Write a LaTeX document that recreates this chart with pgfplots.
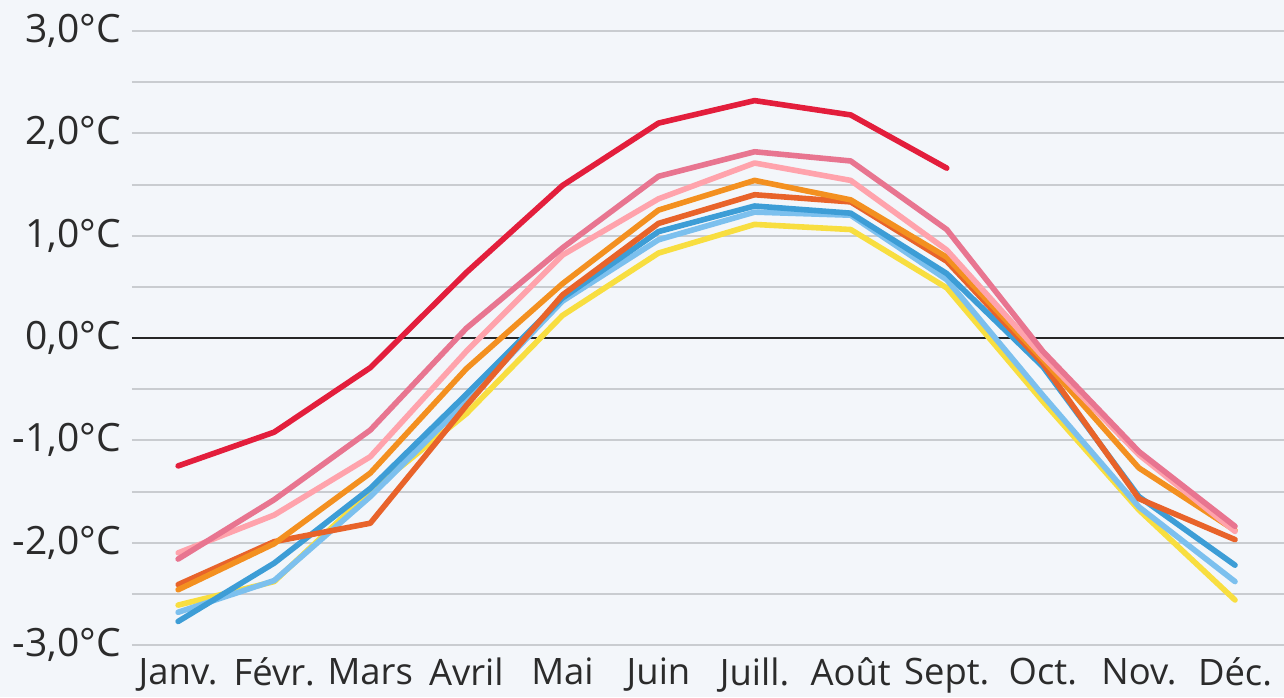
\documentclass[border=0pt]{standalone}
\usepackage{pgfplots}
\pgfplotsset{compat=1.18}
\usepackage{fontspec}
\setmainfont{Open Sans}
\definecolor{bg}{HTML}{F3F6FA}
\definecolor{gridc}{HTML}{C9CCD0}
\definecolor{txt}{HTML}{2B2B2B}
\definecolor{cred}{HTML}{E31E3C}
\definecolor{cpink}{HTML}{E87590}
\definecolor{clpink}{HTML}{FFA3AC}
\definecolor{corange}{HTML}{F39020}
\definecolor{cdorange}{HTML}{E8632A}
\definecolor{cblue}{HTML}{3D9DD6}
\definecolor{clblue}{HTML}{7CC0EE}
\definecolor{cyellow}{HTML}{F8DE40}
\begin{document}
\begin{tikzpicture}
\fill[bg] (-66pt,-26pt) rectangle (576pt,322.5pt);
\begin{axis}[
  at={(0,0)}, anchor=south west,
  scale only axis, width=576pt, height=307pt,
  xmin=-0.48, xmax=11.51, ymin=-3, ymax=3,
  axis line style={draw=none},
  major tick length=0pt, minor tick length=0pt,
  xtick={0,...,11},
  xticklabels={Janv.,Févr.,Mars,Avril,Mai,Juin,Juill.,Août,Sept.,Oct.,Nov.,Déc.},
  ytick={-3,...,3},
  yticklabels={{-3,0°C},{-2,0°C},{-1,0°C},{0,0°C},{1,0°C},{2,0°C},{3,0°C}},
  minor ytick={-2.5,-1.5,...,2.5},
  ymajorgrids, yminorgrids,
  major grid style={gridc, line width=1pt},
  minor grid style={gridc, line width=1pt},
  yticklabel style={xshift=-2pt, font=\fontsize{19.5}{22}\selectfont, text=txt},
  xticklabel style={yshift=-3pt, font=\fontsize{18.2}{21}\selectfont, text=txt},
  clip=false,
  every axis plot/.append style={line width=2.8pt, line join=round, line cap=round, mark=none},
]
\draw[black!85, line width=1pt] (axis cs:-0.48,0) -- (axis cs:11.51,0);
% yellow
\addplot[cyellow] coordinates {(0,-2.61)(1,-2.38)(2,-1.50)(3,-0.74)(4,0.22)(5,0.83)(6,1.11)(7,1.06)(8,0.49)(9,-0.62)(10,-1.68)(11,-2.56)};
% light blue
\addplot[clblue] coordinates {(0,-2.68)(1,-2.37)(2,-1.55)(3,-0.62)(4,0.36)(5,0.96)(6,1.23)(7,1.20)(8,0.57)(9,-0.56)(10,-1.65)(11,-2.38)};
% blue
\addplot[cblue] coordinates {(0,-2.77)(1,-2.20)(2,-1.47)(3,-0.55)(4,0.39)(5,1.04)(6,1.29)(7,1.22)(8,0.63)(9,-0.28)(10,-1.55)(11,-2.22)};
% dark orange
\addplot[cdorange] coordinates {(0,-2.41)(1,-1.99)(2,-1.81)(3,-0.66)(4,0.42)(5,1.12)(6,1.40)(7,1.33)(8,0.75)(9,-0.25)(10,-1.57)(11,-1.97)};
% orange
\addplot[corange] coordinates {(0,-2.46)(1,-2.01)(2,-1.32)(3,-0.30)(4,0.53)(5,1.25)(6,1.54)(7,1.35)(8,0.79)(9,-0.21)(10,-1.27)(11,-1.88)};
% light pink
\addplot[clpink] coordinates {(0,-2.10)(1,-1.73)(2,-1.16)(3,-0.13)(4,0.81)(5,1.36)(6,1.71)(7,1.54)(8,0.86)(9,-0.18)(10,-1.14)(11,-1.89)};
% pink
\addplot[cpink] coordinates {(0,-2.16)(1,-1.58)(2,-0.90)(3,0.095)(4,0.88)(5,1.58)(6,1.82)(7,1.73)(8,1.06)(9,-0.13)(10,-1.11)(11,-1.84)};
% red
\addplot[cred] coordinates {(0,-1.25)(1,-0.92)(2,-0.29)(3,0.64)(4,1.49)(5,2.10)(6,2.32)(7,2.18)(8,1.66)};
\end{axis}
\pgfresetboundingbox
\path[use as bounding box] (-66pt,-26pt) rectangle (576pt,322.5pt);
\end{tikzpicture}
\end{document}
